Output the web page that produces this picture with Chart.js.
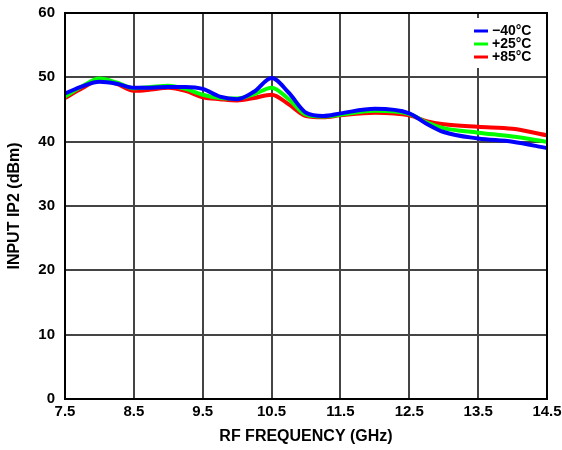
<!DOCTYPE html>
<html>
<head>
<meta charset="utf-8">
<script src="https://cdn.jsdelivr.net/npm/chart.js@4"></script>
<style>
  body { margin: 0; background: #fff; }
  #wrap { width: 562px; height: 450px; }
</style>
</head>
<body>
<div id="wrap"><canvas id="myChart" width="562" height="450"></canvas></div>
<script>
// RF frequency (GHz)
const freq = [7.5, 7.75, 8.0, 8.25, 8.5, 8.75, 9.0, 9.25, 9.5, 9.75, 10.0, 10.25, 10.5, 10.75, 11.0, 11.25, 11.5, 12.0, 12.5, 12.75, 13.0, 13.5, 14.0, 14.5];
// input IP2 (dBm) per temperature
const ip2Cold = [47.5, 48.6, 49.3, 49.0, 48.4, 48.4, 48.5, 48.5, 48.2, 47.0, 46.6, 47.8, 49.9, 47.6, 44.5, 44.0, 44.4, 45.1, 44.4, 42.8, 41.5, 40.5, 40.0, 39.0];
const ip2Room = [47.0, 48.6, 49.8, 49.2, 48.3, 48.5, 48.7, 48.2, 47.3, 46.8, 46.7, 47.4, 48.4, 46.6, 44.2, 43.9, 44.2, 44.8, 44.3, 43.0, 42.1, 41.4, 40.8, 40.0];
const ip2Hot  = [46.8, 48.3, 49.6, 49.0, 47.9, 48.1, 48.4, 47.9, 46.9, 46.6, 46.4, 46.8, 47.3, 45.8, 44.0, 43.8, 44.1, 44.5, 44.1, 43.2, 42.7, 42.3, 42.0, 41.0];
const seriesLabels = ["\u221240\u00B0C", "+25\u00B0C", "+85\u00B0C"];
const seriesColors = ["#0000ff", "#00ff00", "#ff0000"];
const xTicks = [7.5, 8.5, 9.5, 10.5, 11.5, 12.5, 13.5, 14.5];
const yTicks = [0, 10, 20, 30, 40, 50, 60];

const FONT = "'Liberation Sans', Arial, sans-serif";

function pts(vals) {
  return freq.map((f, i) => ({ x: f, y: vals[i] }));
}

// frame round the plot + legend box inside top right
const framePlugin = {
  id: "frame",
  afterDraw(chart) {
    const ctx = chart.ctx;
    const a = chart.chartArea;
    ctx.save();
    ctx.strokeStyle = "#000";
    ctx.lineWidth = 2;
    ctx.strokeRect(a.left, a.top, a.right - a.left, a.bottom - a.top);

    // legend
    const bx = a.right - 80, by = a.top + 5;
    ctx.fillStyle = "#fff";
    ctx.fillRect(bx, by, 78, 50);
    ctx.font = "bold 14px " + FONT;
    ctx.textBaseline = "middle";
    chart.data.datasets.forEach((ds, i) => {
      const y = by + 13 + i * 13;
      ctx.strokeStyle = ds.borderColor;
      ctx.lineWidth = 3;
      ctx.beginPath();
      ctx.moveTo(bx + 7, y);
      ctx.lineTo(bx + 21, y);
      ctx.stroke();
      ctx.fillStyle = "#000";
      ctx.fillText(ds.label, bx + 25, y);
    });
    ctx.restore();
  }
};

const datasets = [ip2Cold, ip2Room, ip2Hot].map((vals, i) => ({
  label: seriesLabels[i],
  data: pts(vals),
  borderColor: seriesColors[i],
  backgroundColor: seriesColors[i],
  borderWidth: 4,
  pointRadius: 0,
  tension: 0.4,
  cubicInterpolationMode: "monotone",
  fill: false
}));

new Chart(document.getElementById("myChart"), {
  type: "line",
  data: { datasets: datasets },
  options: {
    responsive: false,
    animation: false,
    layout: { padding: { top: 13, right: 15, left: 0, bottom: 0 } },
    plugins: { legend: { display: false }, tooltip: { enabled: false } },
    scales: {
      x: {
        type: "linear",
        min: 7.5,
        max: 14.5,
        afterBuildTicks: s => { s.ticks = xTicks.map(v => ({ value: v })); },
        afterFit: s => { s.height = 51; s.paddingLeft = 0; s.paddingRight = 0; },
        grid: { color: "#444", lineWidth: 2, drawTicks: false },
        border: { color: "#000", width: 2 },
        ticks: {
          padding: 4,
          color: "#000",
          maxRotation: 0,
          autoSkip: false,
          font: { family: FONT, size: 15, weight: "bold" },
          callback: v => v.toFixed(1)
        },
        title: {
          display: true,
          text: "RF FREQUENCY (GHz)",
          color: "#000",
          padding: { top: 4, bottom: 4 },
          font: { family: FONT, size: 16, weight: "bold" }
        }
      },
      y: {
        min: 0,
        max: 60,
        afterBuildTicks: s => { s.ticks = yTicks.map(v => ({ value: v })); },
        afterFit: s => { s.width = 65; s.paddingTop = 0; s.paddingBottom = 0; },
        grid: { color: "#444", lineWidth: 2, drawTicks: false },
        border: { color: "#000", width: 2 },
        ticks: {
          padding: 10,
          color: "#000",
          font: { family: FONT, size: 15, weight: "bold" }
        },
        title: {
          display: true,
          text: "INPUT IP2 (dBm)",
          color: "#000",
          padding: { top: 5, bottom: 0 },
          font: { family: FONT, size: 16, weight: "bold" }
        }
      }
    }
  },
  plugins: [framePlugin]
});
</script>
</body>
</html>
